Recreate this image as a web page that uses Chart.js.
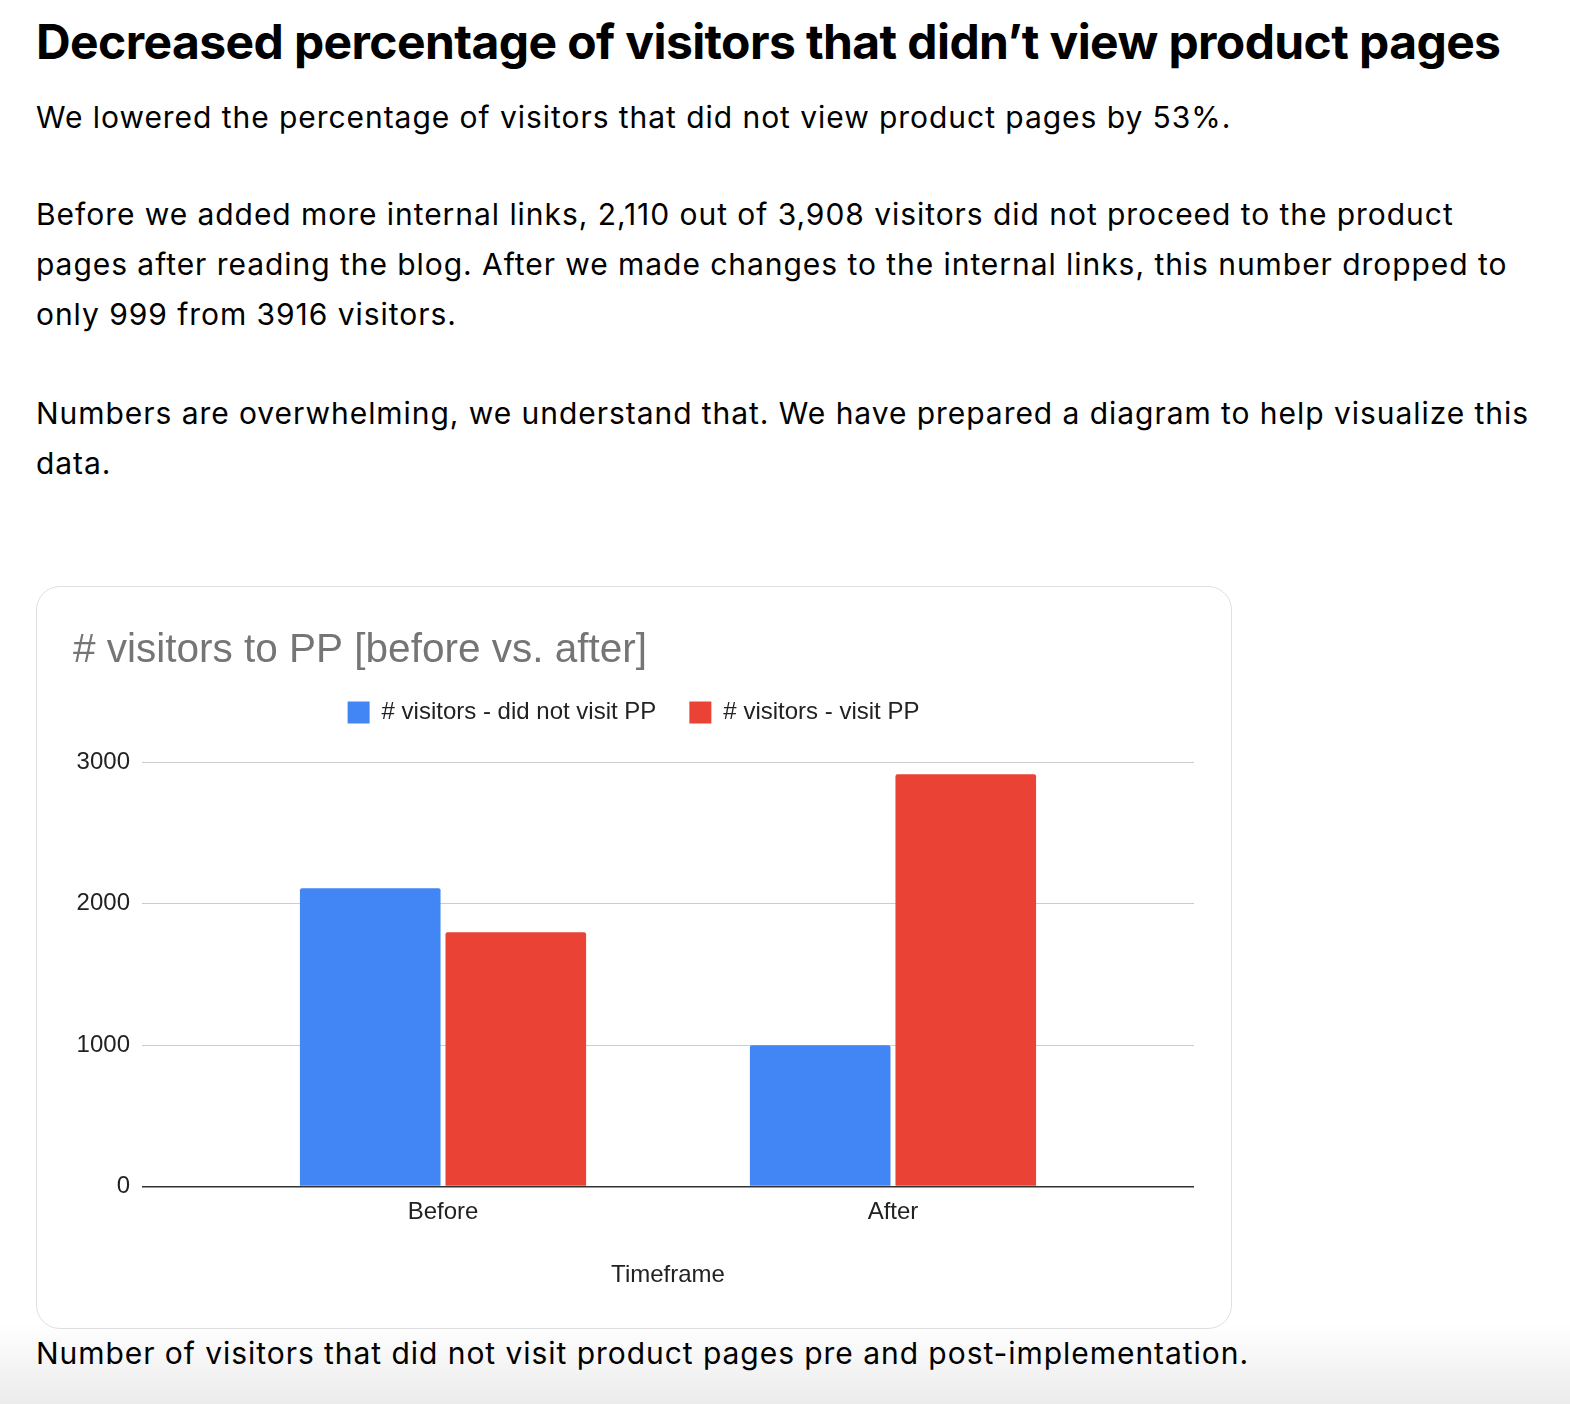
<!DOCTYPE html>
<html>
<head>
<meta charset="utf-8">
<script src="https://cdn.jsdelivr.net/npm/chart.js@4.4.1/dist/chart.umd.min.js"></script>
<style>
  html, body { margin: 0; padding: 0; background: #fff; }
  body { width: 1570px; height: 1404px; position: relative; overflow: hidden; font-family: Inter, "Noto Sans", sans-serif; color: #000; }
  h1 { position: absolute; left: 36px; top: 12px; margin: 0; font-family: Inter, sans-serif; font-weight: 700; font-size: 48px; line-height: 60px; letter-spacing: -0.6px; white-space: nowrap; }
  .txt { position: absolute; left: 36px; margin: 0; font-size: 30px; line-height: 50px; letter-spacing: 0.95px; white-space: nowrap; }
  #card { position: absolute; left: 36px; top: 586px; width: 1194px; height: 741px; border: 1px solid #e0e0e0; border-radius: 24px; background: #fff; }
  #card canvas { display: block; }
  #shade { position: absolute; left: 0; right: 0; bottom: 0; height: 80px; pointer-events: none; background: linear-gradient(rgba(0,0,0,0), rgba(0,0,0,0.08)); }
</style>
</head>
<body>
<h1>Decreased percentage of visitors that didn’t view product pages</h1>
<p class="txt" style="top:92px">We lowered the percentage of visitors that did not view product pages by 53%.</p>
<p class="txt" style="top:189px">Before we added more internal links, 2,110 out of 3,908 visitors did not proceed to the product<br>pages after reading the blog. After we made changes to the internal links, this number dropped to<br>only 999 from 3916 visitors.</p>
<p class="txt" style="top:388px">Numbers are overwhelming, we understand that. We have prepared a diagram to help visualize this<br>data.</p>
<div id="card"><canvas id="ppChart" width="1194" height="741"></canvas></div>
<p class="txt" style="top:1328px">Number of visitors that did not visit product pages pre and post-implementation.</p>
<div id="shade"></div>
<script>
const categories = ['Before', 'After'];
const didNotVisit = [2110, 999];
const visited = [1798, 2917];
const yTicks = [0, 1000, 2000, 3000];

const chartFont = '"Liberation Sans", Arial, sans-serif';

// pushes the plot down from the legend
const legendGap = {
    id: 'legendGap',
    beforeInit(chart) {
        const fit = chart.legend.fit;
        chart.legend.fit = function () {
            fit.bind(chart.legend)();
            this.height += 28;
        };
    }
};

const ctx = document.getElementById('ppChart').getContext('2d');
new Chart(ctx, {
    type: 'bar',
    data: {
        datasets: [
            {
                label: '# visitors - did not visit PP',
                data: categories.map((c, i) => ({ x: i, y: didNotVisit[i] })),
                backgroundColor: '#4285F4',
                borderRadius: 2
            },
            {
                label: '# visitors - visit PP',
                data: categories.map((c, i) => ({ x: i, y: visited[i] })),
                backgroundColor: '#EA4335',
                borderRadius: 2
            }
        ]
    },
    options: {
        responsive: false,
        animation: false,
        categoryPercentage: 0.647,
        barPercentage: 0.966,
        layout: { padding: { left: 36, right: 37, top: 0, bottom: 0 } },
        plugins: {
            title: {
                display: true,
                text: '# visitors to PP [before vs. after]',
                align: 'start',
                color: '#757575',
                font: { family: chartFont, size: 40.5, weight: 'normal', lineHeight: 0.8 },
                padding: { top: 48, bottom: 0 }
            },
            legend: {
                position: 'top',
                labels: {
                    color: '#222',
                    boxWidth: 22,
                    boxHeight: 22,
                    padding: 33,
                    font: { family: chartFont, size: 24 }
                }
            },
            tooltip: { enabled: false }
        },
        scales: {
            x: {
                type: 'linear',
                offset: false,
                min: -0.669,
                max: 1.669,
                afterBuildTicks: (scale) => {
                    scale.ticks = categories.map((c, i) => ({ value: i }));
                },
                grid: { display: false, drawTicks: false, offset: false },
                border: { display: false },
                ticks: {
                    color: '#222',
                    padding: 12,
                    font: { family: chartFont, size: 24 },
                    callback: (value, index) => categories[index]
                },
                title: {
                    display: true,
                    text: 'Timeframe',
                    color: '#222',
                    font: { family: chartFont, size: 24 },
                    padding: { top: 22, bottom: 38 }
                }
            },
            y: {
                min: 0,
                max: 3000,
                afterBuildTicks: (scale) => {
                    scale.ticks = yTicks.map(v => ({ value: v }));
                },
                afterFit: (scale) => { scale.width = 69; },
                grid: {
                    drawTicks: false,
                    color: (c) => c.tick && c.tick.value === 0 ? '#333' : '#cccccc',
                    lineWidth: (c) => c.tick && c.tick.value === 0 ? 1.5 : 1
                },
                border: { display: false },
                ticks: {
                    color: '#222',
                    padding: 12,
                    font: { family: chartFont, size: 24 },
                    callback: (value) => String(value)
                }
            }
        }
    },
    plugins: [legendGap]
});
</script>
</body>
</html>
